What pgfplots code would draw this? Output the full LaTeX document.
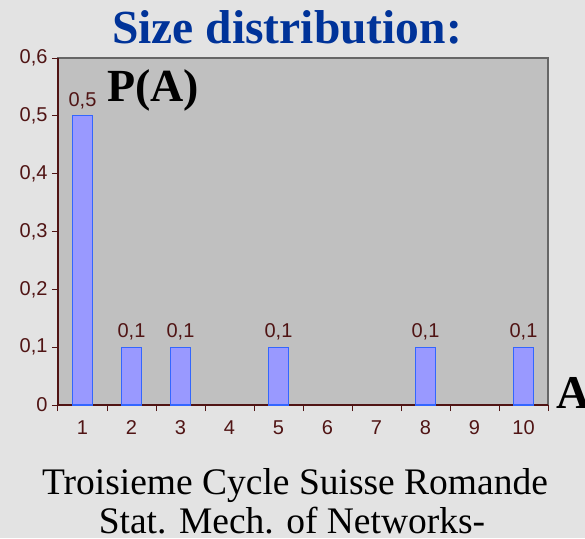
\documentclass[border=0pt]{standalone}
\usepackage{pgfplots}
\pgfplotsset{compat=1.18}
\usepackage{fontspec}
\setmainfont{Liberation Serif}
\newfontfamily\arial{Liberation Sans}
\definecolor{bgc}{HTML}{E3E3E3}
\definecolor{plotc}{HTML}{C0C0C0}
\definecolor{barfill}{HTML}{9999FF}
\definecolor{baredge}{HTML}{3366FF}
\definecolor{maroon}{RGB}{80,20,20}
\definecolor{titleblue}{HTML}{003399}

\begin{document}
\begin{tikzpicture}
\clip (-58pt,-133pt) rectangle (527pt,405pt);
\fill[bgc] (-58pt,-133pt) rectangle (527pt,405pt);
\begin{axis}[
  scale only axis, width=490pt, height=347pt,
  at={(0,0)}, anchor=south west,
  xmin=-0.5, xmax=9.5, ymin=0, ymax=0.6,
  axis x line*=bottom, axis y line*=left,
  axis line style={draw=maroon, line width=1.2pt},
  axis background/.style={fill=plotc, draw=gray!80!black, line width=1.5pt},
  ytick={0,0.1,0.2,0.3,0.4,0.5,0.6},
  xtick={0,1,2,3,4,5,6,7,8,9},
  xticklabels={1,2,3,4,5,6,7,8,9,10},
  minor xtick={-0.5,0.5,1.5,2.5,3.5,4.5,5.5,6.5,7.5,8.5,9.5},
  major x tick style={draw=none},
  tick align=outside,
  major tick length=6pt, minor tick length=6pt,
  tick style={draw=maroon, line width=1pt},
  /pgf/number format/assume math mode=true,
  /pgf/number format/use comma, /pgf/number format/fixed, /pgf/number format/precision=1,
  tick label style={font=\arial\fontsize{20}{20}\selectfont, text=maroon},
  yticklabel style={xshift=-1pt},
  xticklabel style={yshift=-6pt},
  ybar, bar width=19.5pt,
  nodes near coords={\pgfmathprintnumber[assume math mode=true,use comma,fixed,precision=1]{\pgfplotspointmeta}},
  nodes near coords style={font=\arial\fontsize{20}{20}\selectfont, text=maroon, yshift=3pt},
  clip=false,
]
\addplot[fill=barfill, draw=baredge, line width=1.2pt] coordinates {(0,0.5) (1,0.1) (2,0.1) (4,0.1) (7,0.1) (9,0.1)};
\end{axis}
\node[anchor=base, inner sep=0, text=titleblue, font=\bfseries\fontsize{47.5}{47.5}\selectfont] at (229pt,361pt) {Size distribution:};
\node[anchor=base west, inner sep=0, font=\bfseries\fontsize{46}{46}\selectfont] at (49pt,303pt) {P(A)};
\node[anchor=base west, inner sep=0, font=\bfseries\fontsize{47}{47}\selectfont] at (498pt,-3pt) {A};
\node[anchor=base, inner sep=0, font=\fontsize{37.5}{37.5}\selectfont] at (237pt,-89pt) {Troisieme Cycle Suisse Romande};
\node[anchor=base, inner sep=0, font=\fontsize{37.5}{37.5}\selectfont] at (234pt,-128pt) {Stat. Mech. of Networks-};
\end{tikzpicture}
\end{document}
